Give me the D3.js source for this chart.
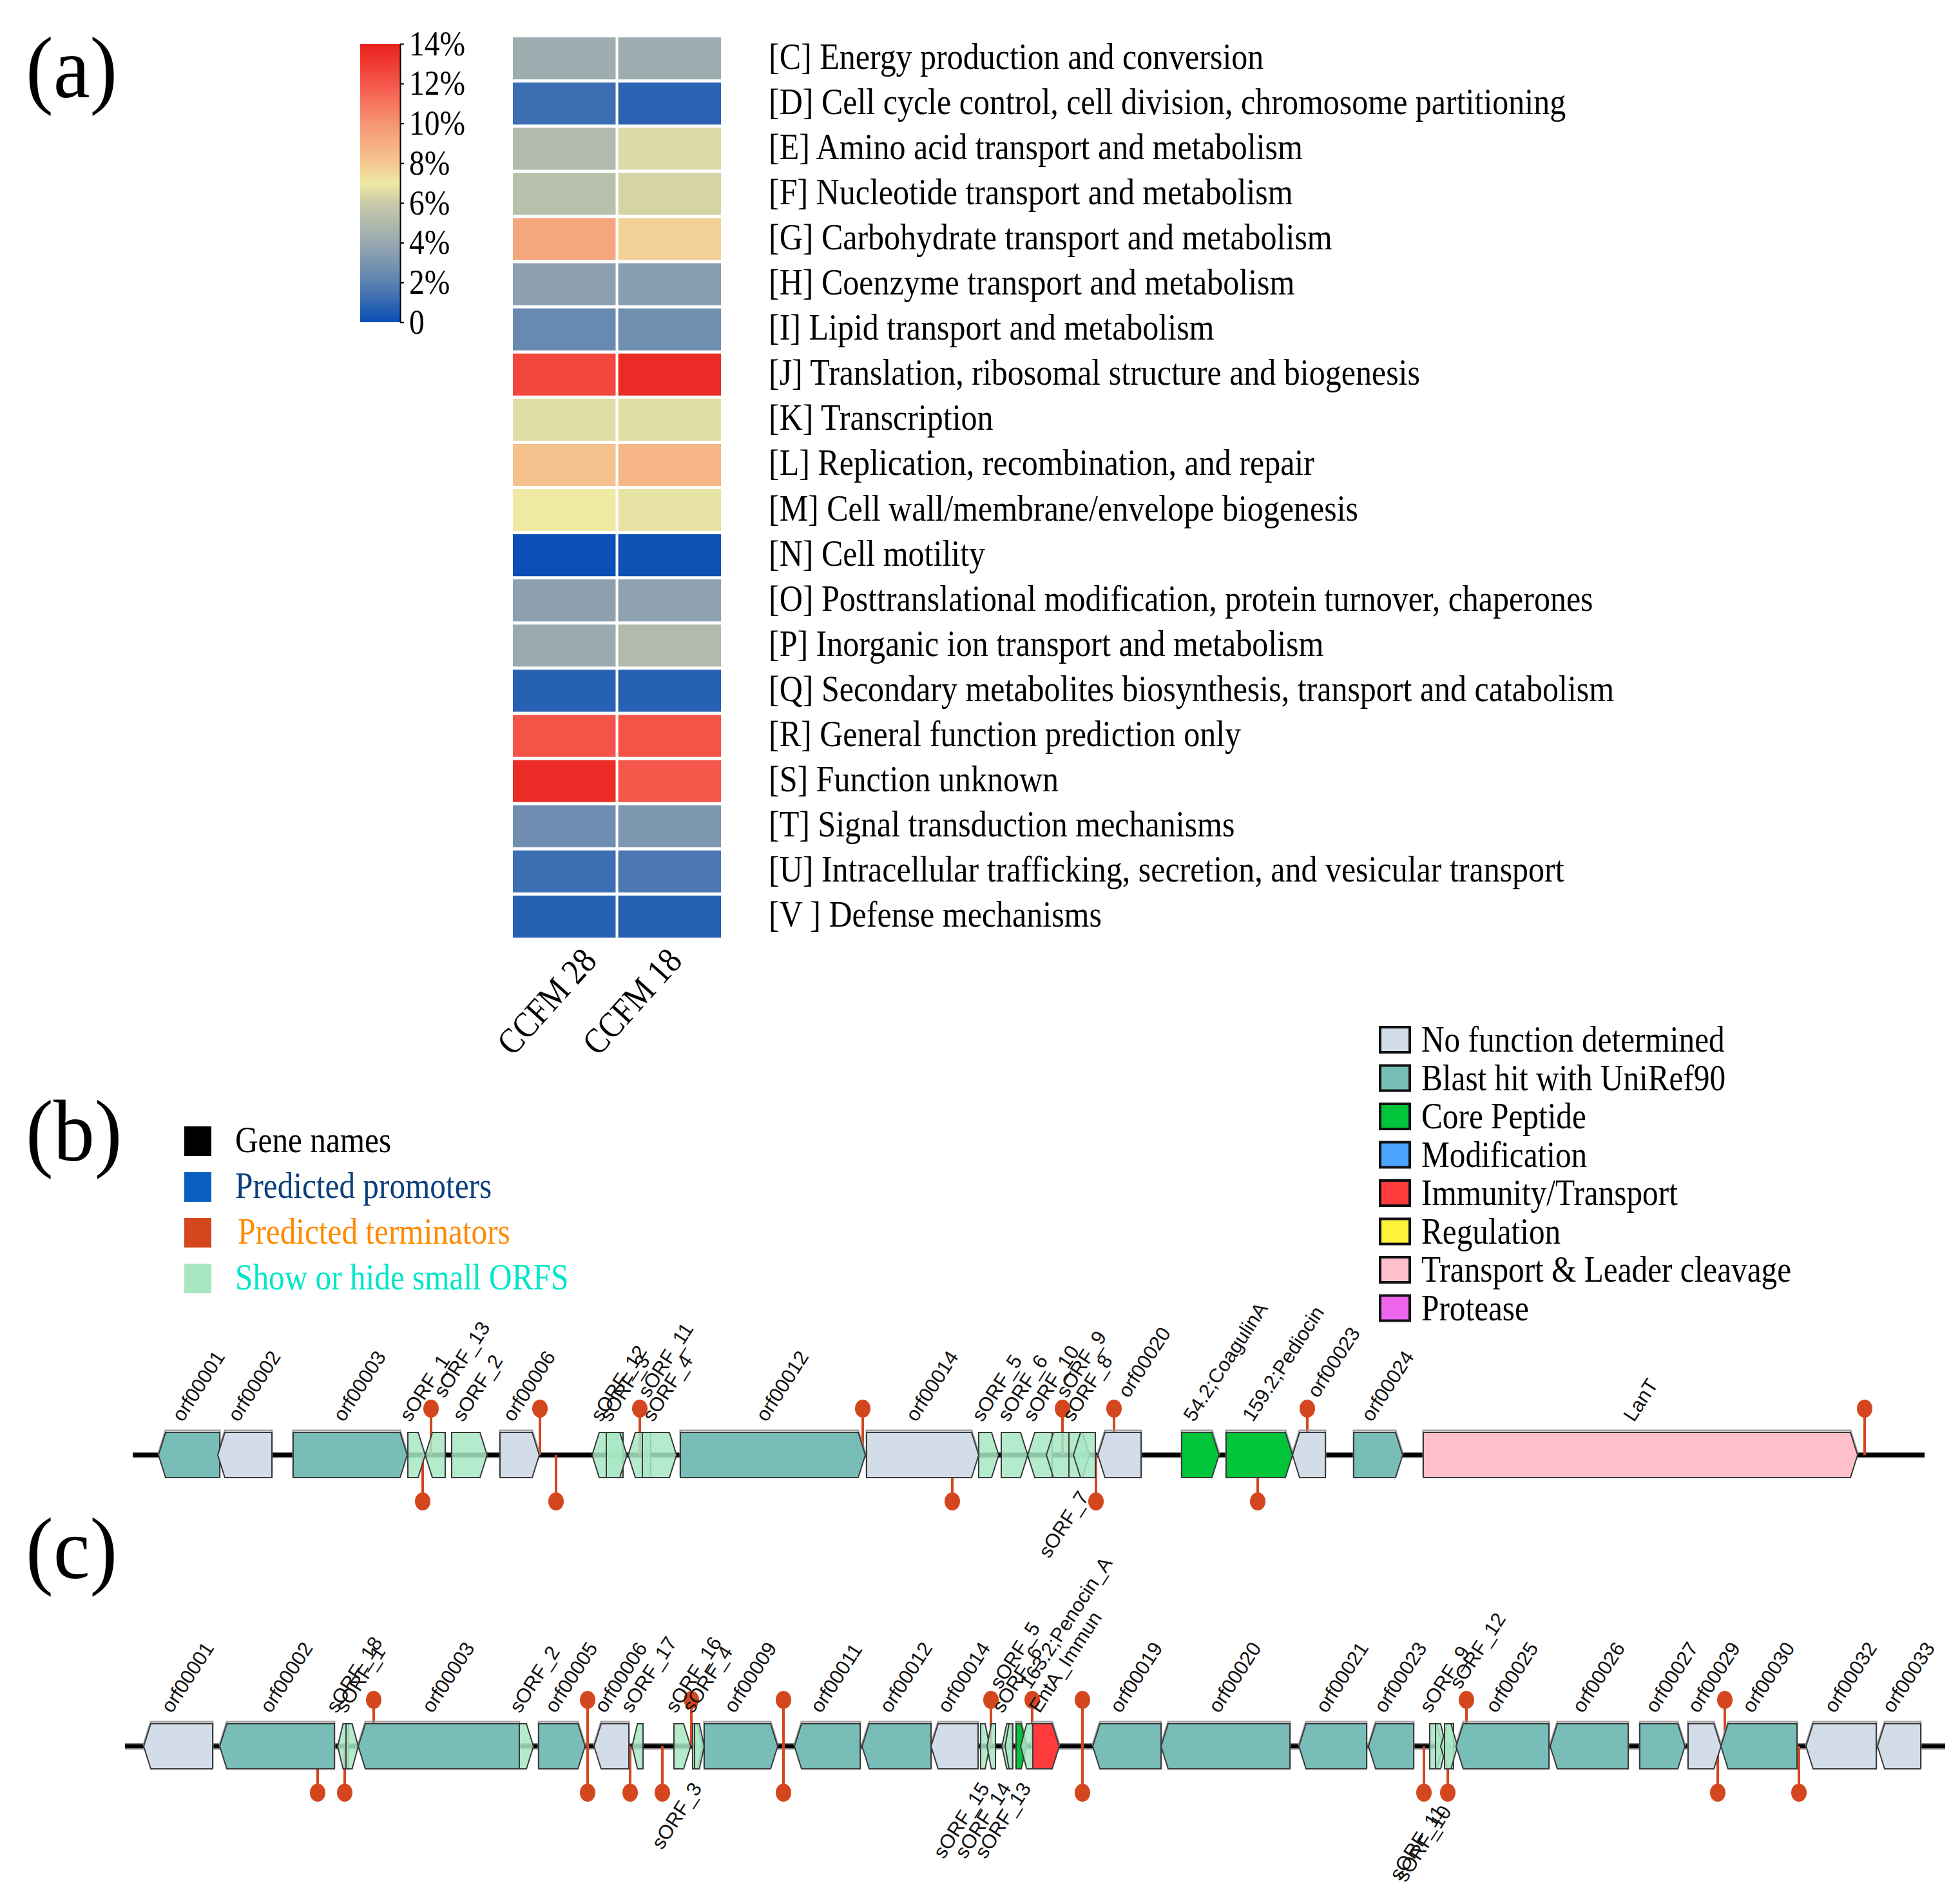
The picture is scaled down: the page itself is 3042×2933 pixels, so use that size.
<!DOCTYPE html>
<html><head><meta charset="utf-8">
<script src="https://cdn.jsdelivr.net/npm/d3@7"></script>
<style>body{margin:0;background:#fff}</style>
</head><body>
<svg id="chart" width="3042" height="2933" xmlns="http://www.w3.org/2000/svg"></svg>
<script>
// ---------------- DATA ----------------
const categories = [
 "[C] Energy production and conversion",
 "[D] Cell cycle control, cell division, chromosome partitioning",
 "[E] Amino acid transport and metabolism",
 "[F] Nucleotide transport and metabolism",
 "[G] Carbohydrate transport and metabolism",
 "[H] Coenzyme transport and metabolism",
 "[I] Lipid transport and metabolism",
 "[J] Translation, ribosomal structure and biogenesis",
 "[K] Transcription",
 "[L] Replication, recombination, and repair",
 "[M] Cell wall/membrane/envelope biogenesis",
 "[N] Cell motility",
 "[O] Posttranslational modification, protein turnover, chaperones",
 "[P] Inorganic ion transport and metabolism",
 "[Q] Secondary metabolites biosynthesis, transport and catabolism",
 "[R] General function prediction only",
 "[S] Function unknown",
 "[T] Signal transduction mechanisms",
 "[U] Intracellular trafficking, secretion, and vesicular transport",
 "[V ] Defense mechanisms"
];
const samples = ["CCFM 28", "CCFM 18"];
const ccfm28 = [4.2,1.2,5.0,5.3,9.3,3.6,2.4,12.6,6.6,8.2,7.0,0.0,3.6,4.1,0.7,12.1,13.6,2.6,1.2,0.7];
const ccfm18 = [4.2,0.8,6.5,6.3,7.7,3.5,2.7,13.6,6.6,8.7,6.8,0.1,3.7,5.0,0.7,12.1,12.0,3.1,1.6,0.65];
const colorStops = [0,2,4,6,7,8,10,12,14];
const colorRamp = ["#0a4fb5","#5c82b0","#98a8b0","#c9cba8","#efe9a4","#f5c690","#f69572","#f5574a","#e8201c"];
const colorTicks = [14,12,10,8,6,4,2,0];
const colorTickLabels = ["14%","12%","10%","8%","6%","4%","2%","0"];

const trackLegendLabels = ["Gene names","Predicted promoters","Predicted terminators","Show or hide small ORFS"];
const trackLegendSwatches = ["#000000","#0a5fc2","#d4471e","#a8e6c0"];
const trackLegendTextColors = ["#000000","#0b3f7c","#ff8a00","#00e6c8"];

const geneTypes = ["nofunc","blast","core","modif","immun","regul","transport","protease"];
const geneTypeLabels = ["No function determined","Blast hit with UniRef90","Core Peptide","Modification",
  "Immunity/Transport","Regulation","Transport & Leader cleavage","Protease"];
const geneTypeColors = ["#d3dde9","#79bdb8","#00c43a","#4aa3ff","#ff3b3b","#fff23a","#ffc0cb","#ee66ee"];
const smallOrfColor = "#a8e8c4";

// [name, start kb, end kb, strand, type]
const trackBGenes = [
 ["orf00001",0.40,1.35,-1,"blast"],
 ["orf00002",1.32,2.16,-1,"nofunc"],
 ["orf00003",2.49,4.26,1,"blast"],
 ["sORF_1",4.27,4.54,1,"small"],
 ["sORF_13",4.54,4.85,-1,"small"],
 ["sORF_2",4.95,5.50,1,"small"],
 ["orf00006",5.70,6.31,1,"nofunc"],
 ["sORF_12",7.13,7.61,-1,"small"],
 ["sORF_3",7.35,7.67,1,"small"],
 ["sORF_11",7.69,8.04,-1,"small"],
 ["sORF_4",7.91,8.44,1,"small"],
 ["orf00012",8.50,11.37,1,"blast"],
 ["orf00014",11.39,13.13,1,"nofunc"],
 ["sORF_5",13.13,13.44,1,"small"],
 ["sORF_6",13.48,13.89,1,"small"],
 ["sORF_10",13.89,14.27,-1,"small"],
 ["sORF_9",14.18,14.53,-1,"small"],
 ["sORF_8",14.53,14.85,1,"small"],
 ["sORF_7",14.60,14.94,-1,"small"],
 ["orf00020",14.98,15.65,-1,"nofunc"],
 ["54.2;CoagulinA",16.28,16.86,1,"core"],
 ["159.2;Pediocin",16.97,18.00,1,"core"],
 ["orf00023",18.00,18.51,-1,"nofunc"],
 ["orf00024",18.95,19.71,1,"blast"],
 ["LanT",20.03,26.77,1,"transport"]
];
const trackBLength = 27.81;
const trackBTermTop = [4.63,6.32,7.87,11.33,14.43,15.23,18.23,26.88];
const trackBTermBottom = [4.50,6.57,12.72,14.95,17.46];
const trackBRaised = ["sORF_13","sORF_11","sORF_9","orf00020","orf00023"];
const trackBBelow = ["sORF_7"];
const trackBLowered = [];

const trackCGenes = [
 ["orf00001",0.29,1.36,-1,"nofunc"],
 ["orf00002",1.47,3.25,-1,"blast"],
 ["sORF_18",3.30,3.47,-1,"small"],
 ["sORF_1",3.43,3.62,1,"small"],
 ["orf00003",3.62,6.12,-1,"blast"],
 ["sORF_2",6.12,6.34,1,"small"],
 ["orf00005",6.42,7.14,1,"blast"],
 ["orf00006",7.28,7.82,-1,"nofunc"],
 ["sORF_17",7.87,8.04,-1,"small"],
 ["sORF_16",8.52,8.78,1,"small"],
 ["sORF_3",8.81,8.96,1,"small"],
 ["sORF_4",8.84,8.99,1,"small"],
 ["orf00009",8.99,10.13,1,"blast"],
 ["orf00011",10.39,11.41,-1,"blast"],
 ["orf00012",11.44,12.51,-1,"blast"],
 ["orf00014",12.51,13.24,-1,"nofunc"],
 ["sORF_15",13.28,13.42,1,"small"],
 ["sORF_5",13.38,13.51,-1,"small"],
 ["sORF_14",13.61,13.76,-1,"small"],
 ["sORF_6",13.66,13.78,-1,"small"],
 ["163.2;Penocin_A",13.83,13.99,1,"core"],
 ["sORF_13",13.90,14.09,-1,"small"],
 ["EntA_Immun",14.09,14.50,1,"immun"],
 ["orf00019",15.02,16.08,-1,"blast"],
 ["orf00020",16.08,18.08,-1,"blast"],
 ["orf00021",18.22,19.27,-1,"blast"],
 ["orf00023",19.30,20.00,-1,"blast"],
 ["sORF_9",20.25,20.46,1,"small"],
 ["sORF_11",20.34,20.50,1,"small"],
 ["sORF_10",20.42,20.62,-1,"small"],
 ["sORF_12",20.48,20.68,1,"small"],
 ["orf00025",20.66,22.10,-1,"blast"],
 ["orf00026",22.12,23.33,-1,"blast"],
 ["orf00027",23.51,24.21,1,"blast"],
 ["orf00029",24.26,24.77,1,"nofunc"],
 ["orf00030",24.77,25.95,-1,"blast"],
 ["orf00032",26.09,27.18,-1,"nofunc"],
 ["orf00033",27.20,27.87,-1,"nofunc"]
];
const trackCLength = 28.25;
const trackCTermTop = [3.86,7.18,8.79,10.22,13.44,14.08,14.86,20.82,24.83];
const trackCTermBottom = [2.99,3.41,7.18,7.84,8.34,10.22,14.86,20.16,20.53,24.72,25.98];
const trackCRaised = ["sORF_5","163.2;Penocin_A","sORF_12"];
const trackCBelow = ["sORF_3","sORF_15","sORF_14","sORF_13","sORF_11","sORF_10"];
const trackCLowered = ["sORF_11","sORF_10"];

// ---------------- DRAW ----------------
const svg = d3.select("#chart");
const SERIF = "'Liberation Serif','Times New Roman',serif";
const SANS = "'Liberation Sans',Arial,sans-serif";
const SX = 0.88;

function serif(g, x, y, txt, size, o = {}) {
  const sx = o.sx || SX;
  const rot = o.rotate ? ` rotate(${o.rotate})` : "";
  return g.append("text")
    .attr("transform", `translate(${x},${y})${rot} scale(${sx},1)`)
    .attr("font-family", SERIF).attr("font-size", size)
    .attr("fill", o.fill || "#000")
    .attr("text-anchor", o.anchor || "start")
    .text(txt);
}

// panel letters
serif(svg, 40, 151, "(a)", 135, {sx: 0.95});
serif(svg, 40, 1801, "(b)", 135, {sx: 0.95});
serif(svg, 40, 2449, "(c)", 135, {sx: 0.95});

// ---- heatmap ----
const xH = d3.scaleBand().domain(samples).range([796, 1119]).paddingInner(0.025);
const yH = d3.scaleBand().domain(categories).range([58, 1455]).paddingInner(0.07);
const color = d3.scaleLinear().domain(colorStops).range(colorRamp).clamp(true);

const cells = [];
categories.forEach((c, i) => {
  cells.push({c, s: samples[0], v: ccfm28[i]});
  cells.push({c, s: samples[1], v: ccfm18[i]});
});
const gH = svg.append("g");
gH.selectAll("rect").data(cells).join("rect")
  .attr("x", d => xH(d.s)).attr("y", d => yH(d.c))
  .attr("width", xH.bandwidth()).attr("height", yH.bandwidth())
  .attr("fill", d => color(d.v));

categories.forEach(c => {
  serif(gH, 1193, yH(c) + yH.bandwidth() / 2 + 16, c, 56, {sx: 0.893});
});
samples.forEach((s, i) => {
  serif(gH, xH(s) + xH.bandwidth() / 2 + 53 - i * 31, 1493, s, 56, {anchor: "end", rotate: -48});
});

// ---- colorbar ----
const cbX = 559, cbW = 62, cbTop = 68, cbBot = 500;
const defs = svg.append("defs");
const grad = defs.append("linearGradient").attr("id", "cbgrad")
  .attr("x1", 0).attr("y1", 1).attr("x2", 0).attr("y2", 0);
colorStops.forEach((v, i) => grad.append("stop")
  .attr("offset", v / 14).attr("stop-color", colorRamp[i]));
svg.append("rect").attr("x", cbX).attr("y", cbTop).attr("width", cbW)
  .attr("height", cbBot - cbTop).attr("fill", "url(#cbgrad)");
const yCb = d3.scaleLinear().domain([0, 14]).range([cbBot, cbTop]);
const cbAxis = svg.append("g").attr("transform", `translate(${cbX + cbW},0)`)
  .call(d3.axisRight(yCb).tickValues(colorTicks)
    .tickFormat((d, i) => colorTickLabels[i]).tickSize(6).tickSizeOuter(0).tickPadding(8));
cbAxis.select(".domain").attr("stroke", "#000").attr("stroke-width", 2);
cbAxis.selectAll(".tick line").attr("stroke", "#000").attr("stroke-width", 2);
cbAxis.selectAll(".tick text").attr("font-family", SERIF).attr("font-size", 54)
  .attr("fill", "#000").attr("transform", `scale(${SX},1)`).attr("x", 16);

// ---- legend (b) left ----
const gL = svg.append("g");
trackLegendLabels.forEach((t, i) => {
  const top = 1748 + i * 71;
  gL.append("rect").attr("x", 286).attr("y", top).attr("width", 42).attr("height", 46)
    .attr("fill", trackLegendSwatches[i]);
  serif(gL, i === 2 ? 369 : 365, top + 40, t, 56, {fill: trackLegendTextColors[i]});
});

// ---- legend (b) right ----
const gR = svg.append("g");
geneTypes.forEach((t, i) => {
  const top = 1594 + i * 59.5;
  gR.append("rect").attr("x", 2142).attr("y", top).attr("width", 46).attr("height", 39)
    .attr("fill", geneTypeColors[i]).attr("stroke", "#111").attr("stroke-width", 4);
  serif(gR, 2206, top + 38, geneTypeLabels[i], 56);
});

// ---- gene tracks ----
const typeColor = t => t === "small" ? smallOrfColor : geneTypeColors[geneTypes.indexOf(t)];

function genePath(x0, x1, strand, yMid, hh) {
  const w = x1 - x0, h = Math.min(11, w * 0.5);
  if (strand > 0)
    return `M${x0},${yMid - hh}L${x1 - h},${yMid - hh}L${x1},${yMid}L${x1 - h},${yMid + hh}L${x0},${yMid + hh}Z`;
  return `M${x1},${yMid - hh}L${x0 + h},${yMid - hh}L${x0},${yMid}L${x0 + h},${yMid + hh}L${x1},${yMid + hh}Z`;
}

function drawTrack(genes, len, range, yMid, termTop, termBot, raised, below, lowered) {
  const x = d3.scaleLinear().domain([0, len]).range(range);
  const g = svg.append("g");
  const hh = 35, lolli = 72, red = "#d4471e";
  // backbone
  g.append("line").attr("x1", x(0)).attr("x2", x(len)).attr("y1", yMid).attr("y2", yMid)
    .attr("stroke", "#8a8a8a").attr("stroke-width", 10);
  g.append("line").attr("x1", x(0)).attr("x2", x(len)).attr("y1", yMid).attr("y2", yMid)
    .attr("stroke", "#000").attr("stroke-width", 6);
  const terms = termTop.map(p => ({p, s: -1})).concat(termBot.map(p => ({p, s: 1})));
  // stems (under genes)
  g.selectAll("line.stem").data(terms).join("line").attr("class", "stem")
    .attr("x1", d => x(d.p)).attr("x2", d => x(d.p))
    .attr("y1", yMid).attr("y2", d => yMid + d.s * lolli)
    .attr("stroke", red).attr("stroke-width", 4);
  // genes
  const gd = genes.map(r => ({name: r[0], s: r[1], e: r[2], strand: r[3], type: r[4]}));
  g.selectAll("path.shadow").data(gd).join("path").attr("class", "shadow")
    .attr("d", d => genePath(x(d.s), x(d.e), d.strand, yMid - 3, hh))
    .attr("fill", "none").attr("stroke", "#9a9a9a").attr("stroke-width", 3)
    .attr("opacity", d => d.type === "small" ? 0 : 0.9);
  g.selectAll("path.gene").data(gd).join("path").attr("class", "gene")
    .attr("d", d => genePath(x(d.s), x(d.e), d.strand, yMid, hh))
    .attr("fill", d => typeColor(d.type))
    .attr("fill-opacity", d => d.type === "small" ? 0.85 : 1)
    .attr("stroke", "#3a3a3a").attr("stroke-width", 2);
  // lollipop heads
  g.selectAll("ellipse").data(terms).join("ellipse")
    .attr("cx", d => x(d.p)).attr("cy", d => yMid + d.s * lolli)
    .attr("rx", 12).attr("ry", 14).attr("fill", red);
  // labels
  const ang = -57, fs = 31;
  gd.forEach(d => {
    const cx = (x(d.s) + x(d.e)) / 2;
    if (below.includes(d.name)) {
      const drop = lowered.includes(d.name) ? 36 : 0;
      g.append("text")
        .attr("transform", `translate(${cx + 8},${yMid + hh + 30 + drop}) rotate(${ang})`)
        .attr("text-anchor", "end").attr("font-family", SANS).attr("font-size", fs)
        .attr("fill", "#111").text(d.name);
    } else {
      const lvl = raised.includes(d.name) ? 1 : 0;
      g.append("text")
        .attr("transform", `translate(${cx - 10},${yMid - hh - 15}) rotate(${ang})`)
        .attr("x", lvl * 44)
        .attr("font-family", SANS).attr("font-size", fs)
        .attr("fill", "#111").text(d.name);
    }
  });
}

drawTrack(trackBGenes, trackBLength, [206, 2987], 2258, trackBTermTop, trackBTermBottom,
  trackBRaised, trackBBelow, trackBLowered);
drawTrack(trackCGenes, trackCLength, [194, 3019], 2710, trackCTermTop, trackCTermBottom,
  trackCRaised, trackCBelow, trackCLowered);
</script>
</body></html>
